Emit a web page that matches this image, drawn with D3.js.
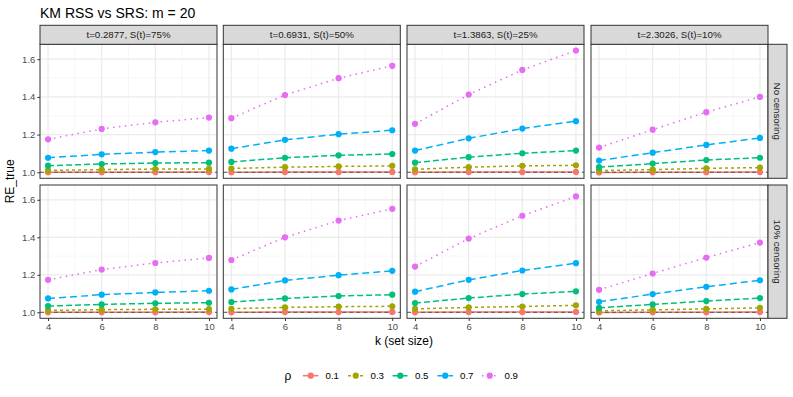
<!DOCTYPE html>
<html>
<head>
<meta charset="utf-8">
<script src="https://cdn.jsdelivr.net/npm/d3@7"></script>
<style>
html,body{margin:0;padding:0;background:#fff;}
text{font-family:"Liberation Sans",Arial,Helvetica,sans-serif;}
</style>
</head>
<body>
<script>
// ---------------- data ----------------
const kValues = [4, 6, 8, 10];
const rhoLevels = ["0.1", "0.3", "0.5", "0.7", "0.9"];
const timeLabels = ["t=0.2877, S(t)=75%", "t=0.6931, S(t)=50%", "t=1.3863, S(t)=25%", "t=2.3026, S(t)=10%"];
const censLabels = ["No censoring", "10% censoring"];
const yTicks = [1.0, 1.2, 1.4, 1.6];
const xTicks = [4, 6, 8, 10];

// RE_true, one array per panel; rows = rho levels, columns = k values
const noCens_t1 = [[1.000,1.000,1.000,1.001],[1.010,1.014,1.017,1.018],[1.035,1.044,1.049,1.051],[1.077,1.095,1.107,1.115],[1.175,1.230,1.265,1.290]];
const noCens_t2 = [[1.000,1.001,1.001,1.002],[1.020,1.027,1.031,1.034],[1.055,1.077,1.090,1.097],[1.125,1.172,1.202,1.223],[1.287,1.410,1.499,1.565]];
const noCens_t3 = [[1.000,1.001,1.001,1.002],[1.016,1.027,1.034,1.037],[1.051,1.080,1.101,1.115],[1.115,1.180,1.232,1.271],[1.257,1.412,1.543,1.646]];
const noCens_t4 = [[0.999,1.000,1.000,1.001],[1.009,1.014,1.021,1.025],[1.027,1.046,1.065,1.077],[1.062,1.104,1.145,1.182],[1.131,1.226,1.319,1.400]];
const cens10_t1 = [[1.000,1.000,1.000,1.001],[1.010,1.014,1.016,1.017],[1.033,1.042,1.048,1.051],[1.074,1.094,1.106,1.115],[1.173,1.228,1.263,1.290]];
const cens10_t2 = [[1.000,1.001,1.001,1.002],[1.019,1.026,1.030,1.032],[1.055,1.074,1.087,1.094],[1.122,1.170,1.198,1.221],[1.279,1.400,1.489,1.552]];
const cens10_t3 = [[1.000,1.001,1.001,1.002],[1.018,1.026,1.031,1.037],[1.049,1.076,1.097,1.112],[1.110,1.173,1.223,1.262],[1.244,1.393,1.515,1.618]];
const cens10_t4 = [[0.999,1.000,1.000,1.001],[1.008,1.013,1.018,1.024],[1.024,1.042,1.060,1.076],[1.056,1.097,1.136,1.171],[1.120,1.207,1.292,1.372]];

const panelData = [
  [noCens_t1, noCens_t2, noCens_t3, noCens_t4],
  [cens10_t1, cens10_t2, cens10_t3, cens10_t4]
];

// ---------------- styles ----------------
const colors = ["#F8766D", "#A3A500", "#00BF7D", "#00B0F6", "#E76BF3"];
const dashes = [null, "3,3", "6,3", "7,4", "1.5,4.5"];

const W = 793, H = 397;
const colX0 = [40, 223.3, 407, 591];
const panelW = 177;
const rowY = [[44.3, 178.3], [185, 318.3]];
const stripTop = 25.3;
const stripRightX = 768, stripRightW = 19;

const svg = d3.select("body").append("svg").attr("width", W).attr("height", H)
  .style("display","block");
svg.append("rect").attr("width", W).attr("height", H).attr("fill", "#fff");

// title
svg.append("text").attr("x", 40).attr("y", 17.5).attr("font-size", 14).attr("fill", "#000")
  .text("KM RSS vs SRS: m = 20");

const yDomain = [0.968, 1.679];
const xDomain = [3.7, 10.3];

for (let r = 0; r < 2; r++) {
  const y = d3.scaleLinear().domain(yDomain).range([rowY[r][1], rowY[r][0]]);
  for (let c = 0; c < 4; c++) {
    const x = d3.scaleLinear().domain(xDomain).range([colX0[c], colX0[c] + panelW]);
    const g = svg.append("g");
    g.append("rect").attr("x", colX0[c]).attr("y", rowY[r][0]).attr("width", panelW)
      .attr("height", rowY[r][1] - rowY[r][0]).attr("fill", "#fff");
    const yMinor = [1.1, 1.3, 1.5];
    const xMinor = [5, 7, 9];
    g.selectAll(".ymin").data(yMinor).join("line")
      .attr("x1", colX0[c]).attr("x2", colX0[c] + panelW)
      .attr("y1", d => y(d)).attr("y2", d => y(d))
      .attr("stroke", "#F2F2F2").attr("stroke-width", 0.6);
    g.selectAll(".xmin").data(xMinor).join("line")
      .attr("y1", rowY[r][0]).attr("y2", rowY[r][1])
      .attr("x1", d => x(d)).attr("x2", d => x(d))
      .attr("stroke", "#F2F2F2").attr("stroke-width", 0.6);
    g.selectAll(".ymaj").data(yTicks).join("line")
      .attr("x1", colX0[c]).attr("x2", colX0[c] + panelW)
      .attr("y1", d => y(d)).attr("y2", d => y(d))
      .attr("stroke", "#EBEBEB").attr("stroke-width", 1.2);
    g.selectAll(".xmaj").data(xTicks).join("line")
      .attr("y1", rowY[r][0]).attr("y2", rowY[r][1])
      .attr("x1", d => x(d)).attr("x2", d => x(d))
      .attr("stroke", "#EBEBEB").attr("stroke-width", 1.2);

    const series = panelData[r][c];
    const line = d3.line().x((d, i) => x(kValues[i])).y(d => y(d));
    series.forEach((vals, s) => {
      g.append("path").attr("d", line(vals)).attr("fill", "none")
        .attr("stroke", colors[s]).attr("stroke-width", 1.5)
        .attr("stroke-dasharray", dashes[s]);
    });
    g.append("line").attr("x1", colX0[c]).attr("x2", colX0[c] + panelW)
      .attr("y1", y(1)).attr("y2", y(1))
      .attr("stroke", "#555").attr("stroke-width", 1).attr("stroke-dasharray", "4,3");
    series.forEach((vals, s) => {
      g.selectAll(null).data(vals).join("circle")
        .attr("cx", (d, i) => x(kValues[i])).attr("cy", d => y(d))
        .attr("r", 3.1).attr("fill", colors[s]);
    });
    g.append("rect").attr("x", colX0[c]).attr("y", rowY[r][0]).attr("width", panelW)
      .attr("height", rowY[r][1] - rowY[r][0]).attr("fill", "none")
      .attr("stroke", "#333").attr("stroke-width", 1);

    if (r === 1) {
      const ax = svg.append("g").attr("transform", `translate(0,${rowY[r][1]})`)
        .call(d3.axisBottom(x).tickValues(xTicks).tickSize(2.7).tickPadding(2).tickFormat(d3.format("d")));
      ax.select(".domain").remove();
      ax.selectAll("line").attr("stroke", "#333");
      ax.selectAll("text").attr("fill", "#4D4D4D").attr("font-size", 9.5)
        .style("font-family", "'Liberation Sans',Arial,sans-serif");
    }
    if (r === 0) {
      svg.append("rect").attr("x", colX0[c]).attr("y", stripTop).attr("width", panelW)
        .attr("height", rowY[0][0] - stripTop).attr("fill", "#D9D9D9")
        .attr("stroke", "#333").attr("stroke-width", 1);
      svg.append("text").attr("x", colX0[c] + panelW / 2).attr("y", (stripTop + rowY[0][0]) / 2)
        .attr("dy", "0.35em").attr("text-anchor", "middle").attr("font-size", 9.7)
        .attr("fill", "#1A1A1A").text(timeLabels[c]);
    }
  }
  const ay = svg.append("g").attr("transform", `translate(${colX0[0]},0)`)
    .call(d3.axisLeft(y).tickValues(yTicks).tickSize(2.7).tickPadding(2).tickFormat(d3.format(".1f")));
  ay.select(".domain").remove();
  ay.selectAll("line").attr("stroke", "#333");
  ay.selectAll("text").attr("fill", "#4D4D4D").attr("font-size", 9.5)
    .style("font-family", "'Liberation Sans',Arial,sans-serif");

  svg.append("rect").attr("x", stripRightX).attr("y", rowY[r][0]).attr("width", stripRightW)
    .attr("height", rowY[r][1] - rowY[r][0]).attr("fill", "#D9D9D9")
    .attr("stroke", "#333").attr("stroke-width", 1);
  const cy = (rowY[r][0] + rowY[r][1]) / 2;
  svg.append("text").attr("transform", `translate(${stripRightX + stripRightW / 2},${cy}) rotate(90)`)
    .attr("dy", "0.35em").attr("text-anchor", "middle").attr("font-size", 9.7)
    .attr("fill", "#1A1A1A").text(censLabels[r]);
}

svg.append("text").attr("transform", `translate(14,${(rowY[0][0] + rowY[1][1]) / 2}) rotate(-90)`)
  .attr("text-anchor", "middle").attr("font-size", 12).attr("fill", "#000").text("RE_true");
svg.append("text").attr("x", (colX0[0] + colX0[3] + panelW) / 2).attr("y", 345)
  .attr("text-anchor", "middle").attr("font-size", 12).attr("fill", "#000").text("k (set size)");

const legY = 375.7;
svg.append("text").attr("x", 284.5).attr("y", legY).attr("dy", "0.35em").attr("font-size", 12)
  .attr("fill", "#000").text("ρ");
const keyX = [303, 348, 392.5, 437.5, 482];
rhoLevels.forEach((lab, s) => {
  const kx = keyX[s];
  svg.append("line").attr("x1", kx).attr("x2", kx + 15.5).attr("y1", legY).attr("y2", legY)
    .attr("stroke", colors[s]).attr("stroke-width", 1.5).attr("stroke-dasharray", dashes[s]);
  svg.append("circle").attr("cx", kx + 7.75).attr("cy", legY).attr("r", 3.1).attr("fill", colors[s]);
  svg.append("text").attr("x", kx + 22.5).attr("y", legY).attr("dy", "0.35em").attr("font-size", 9.7)
    .attr("fill", "#000").text(lab);
});
</script>
</body>
</html>
